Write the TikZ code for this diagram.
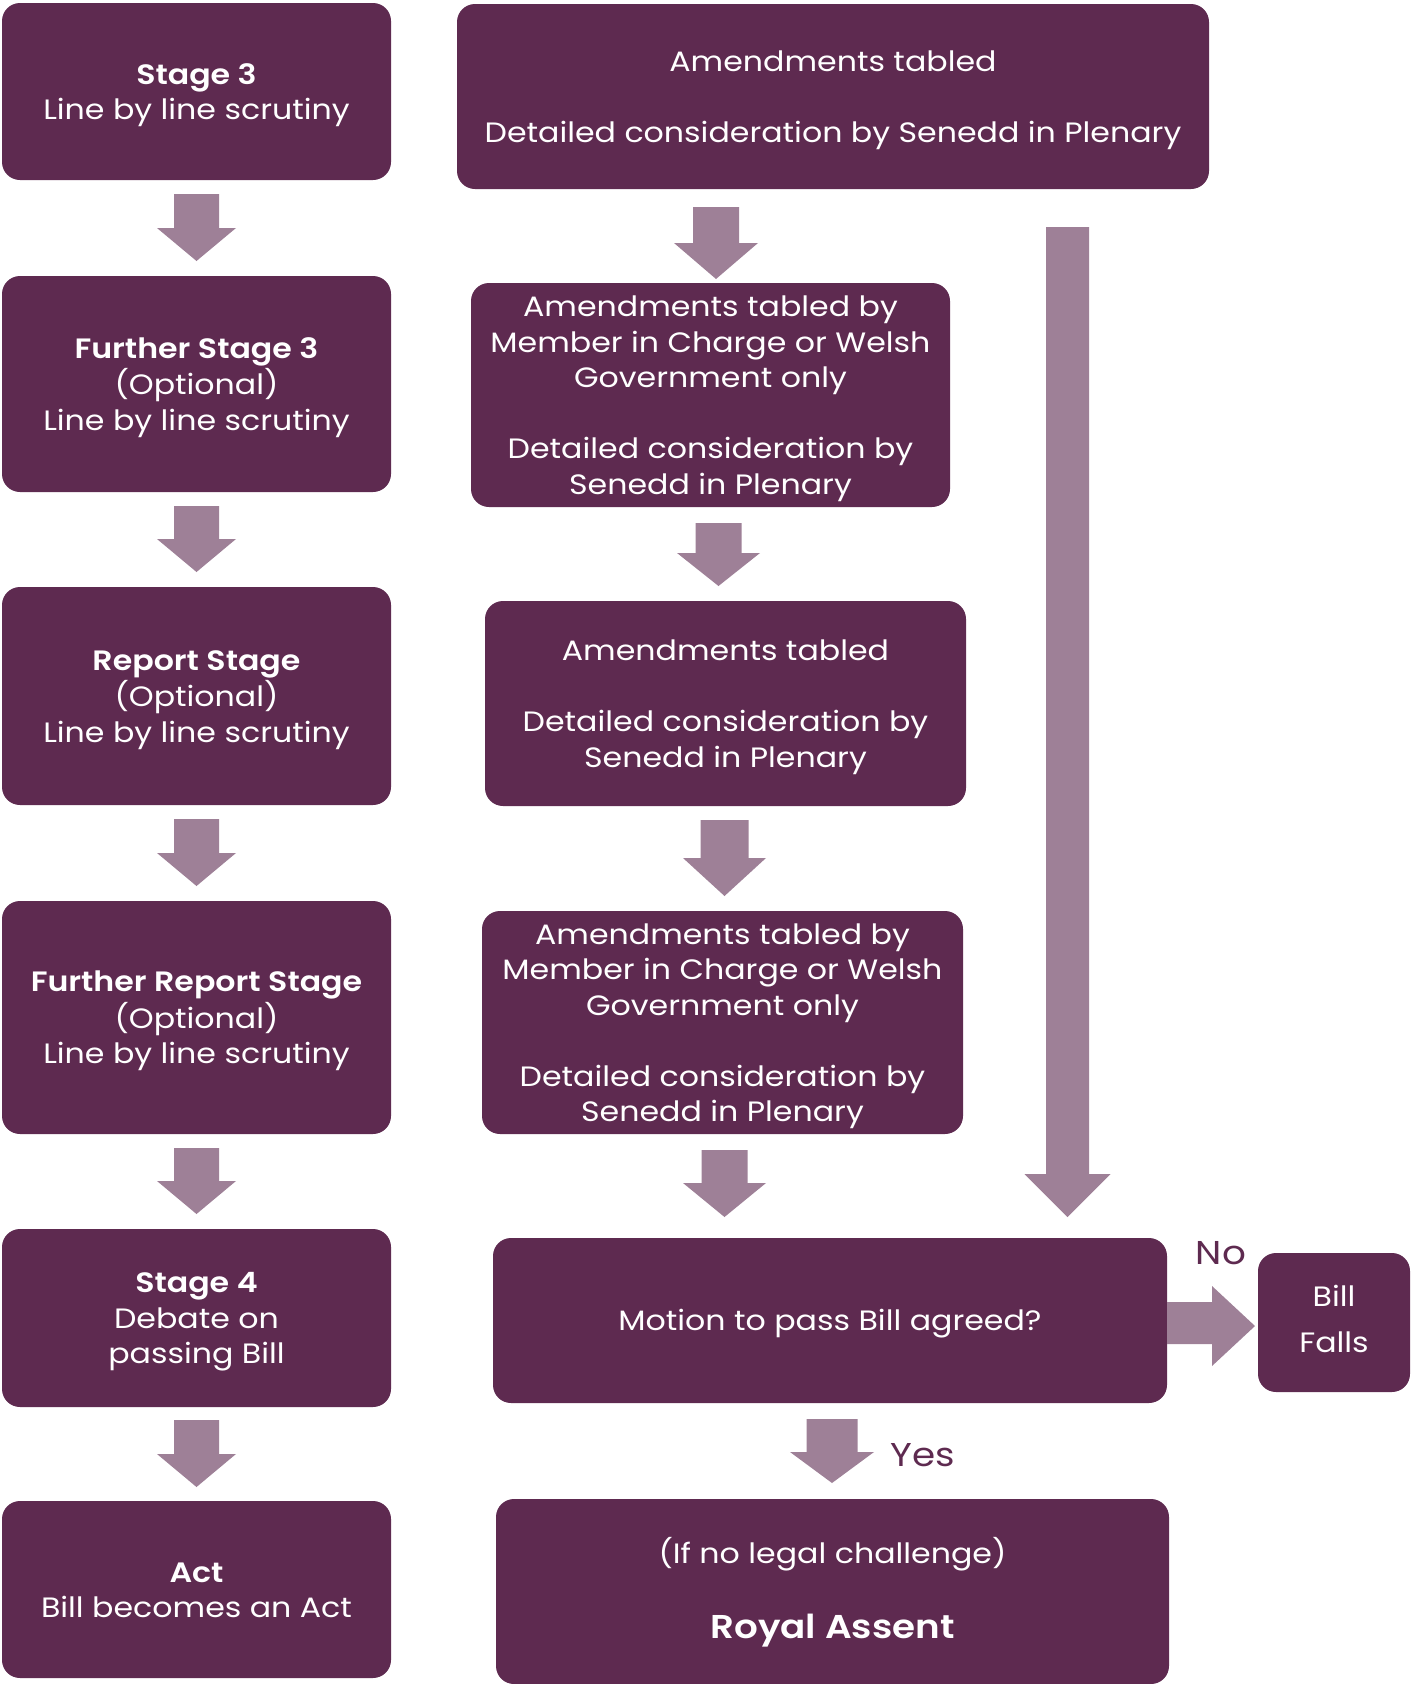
\documentclass[tikz,border=0pt]{standalone}
\usepackage{fontspec}
\setmainfont{Poppins}[FakeStretch=1.13, BoldFont={Poppins SemiBold}, BoldFeatures={FakeStretch=1.13}]
\definecolor{plum}{HTML}{5E2A50}
\definecolor{arrcol}{HTML}{9E8097}
\newcommand{\darr}[6]{%
\fill[arrowfill] (#1-#4,#2) -- (#1+#4,#2) -- (#1+#4,#3-#6) -- (#1+#5,#3-#6) -- (#1,#3) -- (#1-#5,#3-#6) -- (#1-#4,#3-#6) -- cycle;}
\newcommand{\tx}[2][-3.2pt]{\raisebox{#1}[\height][\depth]{\begin{tabular}{@{}c@{}}#2\end{tabular}}}
\begin{document}
\begin{tikzpicture}[x=1pt,y=-1pt,
  box/.style={fill=plum, rounded corners=18pt, text=white, inner sep=0pt,
    font=\fontsize{28}{35.5}\selectfont},
  lbox/.style={box, minimum width=389pt},
  arrowfill/.style={fill=arrcol},
  lab/.style={text=plum, font=\fontsize{33}{40}\selectfont, inner sep=0pt}
]
\useasboundingbox (0,0) rectangle (1411,1684);

% left column
\node[lbox, minimum height=177pt] (s3) at (196.5,91.5) {\tx{\textbf{Stage 3}\\Line by line scrutiny}};
\node[lbox, minimum height=216pt] (fs3) at (196.5,384) {\tx{\textbf{Further Stage 3}\\(Optional)\\Line by line scrutiny}};
\node[lbox, minimum height=218pt] (rs) at (196.5,696) {\tx{\textbf{Report Stage}\\(Optional)\\Line by line scrutiny}};
\node[lbox, minimum height=233pt] (frs) at (196.5,1017.5) {\tx{\textbf{Further Report Stage}\\(Optional)\\Line by line scrutiny}};
\node[lbox, minimum height=178pt] (s4) at (196.5,1318) {\tx{\textbf{Stage 4}\\Debate on\\passing Bill}};
\node[lbox, minimum height=177pt] (act) at (196.5,1589.5) {\tx{\textbf{Act}\\Bill becomes an Act}};

% middle column
\node[box, minimum width=752pt, minimum height=185pt] (m1) at (833,96.5) {\tx{Amendments tabled\\[35.5pt]Detailed consideration by Senedd in Plenary}};
\node[box, minimum width=479pt, minimum height=224pt] (m2) at (710.5,395) {\tx{Amendments tabled by\\Member in Charge or Welsh\\Government only\\[35.5pt]Detailed consideration by\\Senedd in Plenary}};
\node[box, minimum width=481pt, minimum height=205pt] (m3) at (725.5,703.5) {\tx{Amendments tabled\\[35.5pt]Detailed consideration by\\Senedd in Plenary}};
\node[box, minimum width=481pt, minimum height=223pt] (m4) at (722.5,1022.5) {\tx{Amendments tabled by\\Member in Charge or Welsh\\Government only\\[35.5pt]Detailed consideration by\\Senedd in Plenary}};
\node[box, minimum width=674pt, minimum height=165pt] (mot) at (830,1320.5) {\tx{Motion to pass Bill agreed?}};
\node[box, minimum width=152pt, minimum height=139pt, font=\fontsize{28}{46}\selectfont] (bf) at (1334,1322.5) {\tx[2pt]{Bill\\Falls}};
\node[box, minimum width=673pt, minimum height=185pt] (ra) at (832.5,1591.5) {\tx[-1.5pt]{(If no legal challenge)\\[39pt]{\fontsize{33}{40}\selectfont\textbf{Royal Assent}}}};

% left arrows
\darr{196.5}{194}{261}{22.5}{39.5}{33}
\darr{196.5}{506}{572}{22.5}{39.5}{33}
\darr{196.5}{819}{886}{22.5}{39.5}{33}
\darr{196.5}{1148}{1214}{22.5}{39.5}{33}
\darr{196.5}{1420}{1487}{22.5}{39.5}{33}

% middle arrows
\darr{716}{207}{279}{23}{42}{36}
\darr{718.5}{523}{586}{23}{41.5}{33}
\darr{724.5}{820}{896}{24}{41.5}{38}
\darr{724.5}{1150}{1217}{23}{41.5}{34}
\darr{832}{1419}{1483}{25.5}{42}{31}

% long arrow
\darr{1067.5}{227}{1217}{21.5}{43}{43}

% right arrow (No)
\fill[arrowfill] (mot.east |- 0,1302) -- (1212,1302) -- (1212,1286) -- (1255,1326) -- (1212,1366) -- (1212,1344) -- (mot.east |- 0,1344) -- cycle;

\node[lab] (no) at (1221,1253) {No};
\node[lab] (yes) at (923,1455) {Yes};
\end{tikzpicture}
\end{document}
